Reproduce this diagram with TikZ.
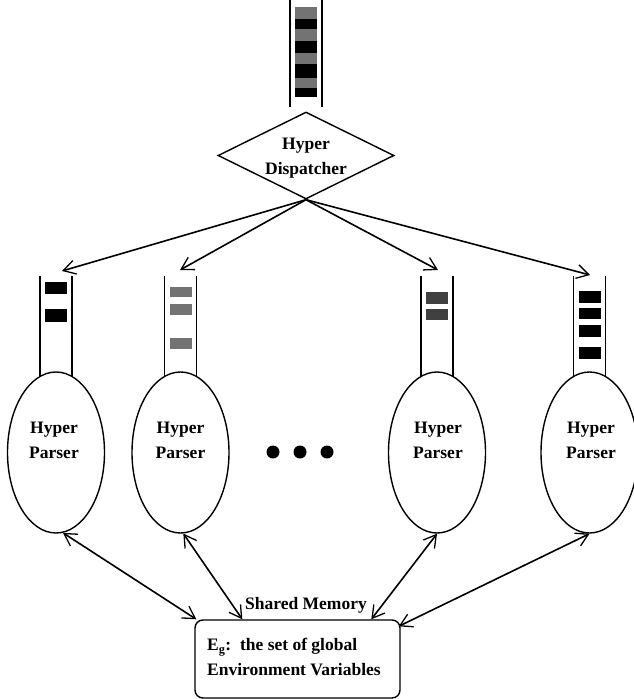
\documentclass[tikz,border=0pt]{standalone}
\usepackage{fontspec}
\setmainfont{Liberation Serif}
\usetikzlibrary{shapes.geometric,arrows.meta,calc}
\begin{document}
\begin{tikzpicture}[x=1pt,y=-1pt,
  lbl/.style={font=\fontsize{17.5}{25}\selectfont\bfseries, align=center, inner sep=0},
  parser/.style={ellipse, draw, line width=1.4pt, minimum width=97pt, minimum height=161pt, inner sep=0},
  qline/.style={line width=1.4pt},
  blk/.style={fill=black, draw=none},
  gblk/.style={fill=black!55, draw=none},
  tip/.style={},
  arr/.style={line width=1.6pt, -{Straight Barb[length=12pt,width=14pt,line width=1.3pt]}},
  darr/.style={line width=1.6pt, {Straight Barb[length=12pt,width=14pt,line width=1.3pt]}-{Straight Barb[length=12pt,width=14pt,line width=1.3pt]}},
  dot/.style={circle, fill=black, minimum size=13pt, inner sep=0}]
\useasboundingbox (0,0) rectangle (633,699);
% top queue
\draw[qline] (290,0) coordinate (tq1) -- (290,107) coordinate (tq2);
\draw[qline] (322,0) coordinate (tq3) -- (322,107) coordinate (tq4);
\fill[gblk] (295,7) rectangle (317,19);
\fill[blk] (295,19) rectangle (317,29);
\fill[gblk] (295,29) rectangle (317,41);
\fill[blk] (295,41) rectangle (317,53);
\fill[gblk] (295,53) rectangle (317,64);
\fill[blk] (295,64) rectangle (317,78);
\fill[gblk] (295,78) rectangle (317,88);
\fill[blk] (295,88) rectangle (317,97);
% dispatcher
\node[diamond, draw, line width=1.4pt, minimum width=176pt, minimum height=87pt, inner sep=0] (d) at (306,155.5) {};
\node[lbl] (dt) at (306,158) {Hyper\\Dispatcher};
% parsers
\node[parser] (p1) at (56,452.5) {};
\node[parser] (p2) at (180.5,452.5) {};
\node[parser] (p3) at (437,452.5) {};
\node[parser] (p4) at (589.5,452.5) {};
\node[lbl] (p1t) at (54,440) {Hyper\\Parser};
\node[lbl] (p2t) at (180.5,440) {Hyper\\Parser};
\node[lbl] (p3t) at (438,440) {Hyper\\Parser};
\node[lbl] (p4t) at (591,440) {Hyper\\Parser};
% queues
\foreach \c in {56,180.5,437,589.5}{
  \draw[qline] (\c-16,276) -- (\c-16,376.5);
  \draw[qline] (\c+16,276) -- (\c+16,376.5);
}
% queue 1
\fill[blk] (45,282) rectangle (67,294);
\fill[blk] (45,309) rectangle (67,322);
% queue 2
\fill[gblk] (170,287) rectangle (192,297);
\fill[gblk] (170,304) rectangle (192,315);
\fill[gblk] (170,338) rectangle (192,349);
% queue 3
\fill[black!75] (426,292) rectangle (448,304);
\fill[black!75] (426,309) rectangle (448,320);
% queue 4
\fill[blk] (579,291) rectangle (601,303);
\fill[blk] (579,308) rectangle (601,319);
\fill[blk] (579,325) rectangle (601,337);
\fill[blk] (579,347) rectangle (601,359);
% dispatch arrows
\coordinate (a1) at (62,271);
\coordinate (a2) at (180,270);
\coordinate (a3) at (438,270);
\coordinate (a4) at (590,275);
\foreach \t in {a1,a2,a3,a4}{ \draw[arr] (d.south) -- (\t); }
% dots
\node[dot] (dot1) at (273,452) {};
\node[dot] (dot2) at (300,452) {};
\node[dot] (dot3) at (327,452) {};
% memory box
\node[draw, line width=1.4pt, rounded corners=8pt, minimum width=205pt, minimum height=78pt, inner sep=0] (m) at (297.5,659) {};
\node[lbl, align=left, anchor=west] (mt) at (207,657) {E\textsubscript{g}:\ \ the set of global\\Environment Variables};
\node[lbl] (sm) at (306,605) {Shared Memory};
% shared memory arrows
\draw[darr] (p1.-85) -- ($(m.north west)+(2,0)$);
\draw[darr] (p2.-88) -- ($(m.north west)+(48,0)$);
\draw[darr] (p3.-90) -- ($(m.north west)+(177,0)$);
\draw[darr] (p4.-90) -- ($(m.north east)+(-2,7)$);
\end{tikzpicture}
\end{document}
